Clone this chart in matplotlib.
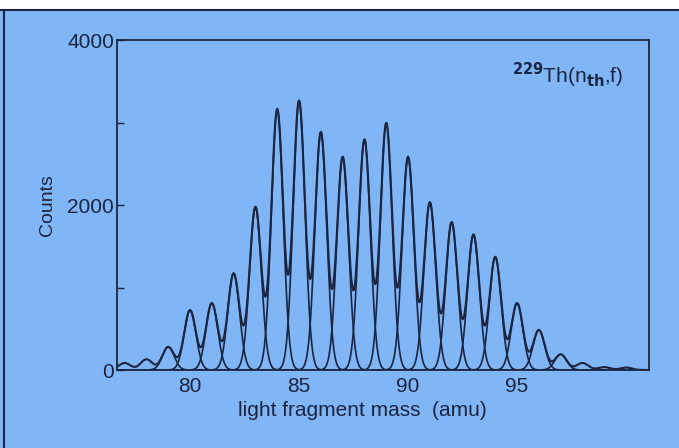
import numpy as np
import matplotlib
matplotlib.use("Agg")
import matplotlib.pyplot as plt

# Peak masses (amu) and fitted peak heights (counts)
masses = [76, 77, 78, 79, 80, 81, 82, 83, 84, 85, 86, 87, 88, 89, 90,
          91, 92, 93, 94, 95, 96, 97, 98, 99, 100]
heights = [60, 85, 130, 280, 725, 810, 1170, 1975, 3160, 3260, 2880, 2580,
           2790, 2990, 2580, 2030, 1790, 1640, 1370, 810, 485, 190, 85, 35, 30]
peak_sigma = 0.27
xticks = [80, 85, 90, 95]
yticks = [0, 2000, 4000]
yminor = [1000, 3000]

BG = "#80b5f6"
INK = "#1b2540"

fig = plt.figure(figsize=(6.79, 4.48), dpi=100, facecolor=BG)
plt.rcParams['font.family'] = ['Liberation Sans', 'DejaVu Sans']

ax = fig.add_axes([0.1723, 0.1741, 0.9558 - 0.1723, 0.9107 - 0.1741])
ax.set_facecolor(BG)

x = np.linspace(76.5, 101.2, 3000)
total = np.zeros_like(x)
for m, h in zip(masses, heights):
    g = h * np.exp(-0.5 * ((x - m) / peak_sigma) ** 2)
    total += g
    if h > 150:
        ax.plot(x, g, color=INK, lw=1.2)
ax.plot(x, total, color=INK, lw=1.5)

ax.set_xlim(76.65, 101.05)
ax.set_ylim(0, 4000)
ax.set_xticks(xticks)
ax.set_yticks(yticks)
ax.yaxis.set_minor_locator(plt.FixedLocator(yminor))
ax.tick_params(axis='y', which='both', direction='in', length=5, width=1.0,
               color=INK, labelsize=15, labelcolor=INK, pad=2)
ax.tick_params(axis='x', which='both', direction='in', length=0,
               labelsize=15, labelcolor=INK, pad=5)
for s in ax.spines.values():
    s.set_color(INK)
    s.set_linewidth(1.3)

ax.set_xlabel("light fragment mass  (amu)", fontsize=15, color=INK)
ax.xaxis.set_label_coords((362 - 117) / 532, -(410 - 370) / 330)
ax.xaxis.label.set_va('center')
ax.set_ylabel("Counts", fontsize=14, color=INK)
ax.yaxis.set_label_coords(-(117 - 48) / 532, (370 - 205) / 330)
ax.yaxis.label.set_va('center')

ax.text(0.951, 0.894, r"$^{\mathbf{229}}$Th(n$_{\mathbf{th}}$,f)", transform=ax.transAxes,
        ha='right', va='center', fontsize=15, color=INK)

# scan frame
fig.patches.append(plt.Rectangle((0, 1 - 10 / 448), 1, 10 / 448, transform=fig.transFigure,
                                 facecolor='white', edgecolor='none', zorder=-1))
fig.add_artist(plt.Line2D([0, 1], [1 - 10.5 / 448] * 2, transform=fig.transFigure,
                          color=INK, lw=1.5))
fig.add_artist(plt.Line2D([4 / 679] * 2, [0, 1 - 10.5 / 448], transform=fig.transFigure,
                          color=INK, lw=1.5))

fig.savefig("out.png", dpi=100, facecolor=BG)
